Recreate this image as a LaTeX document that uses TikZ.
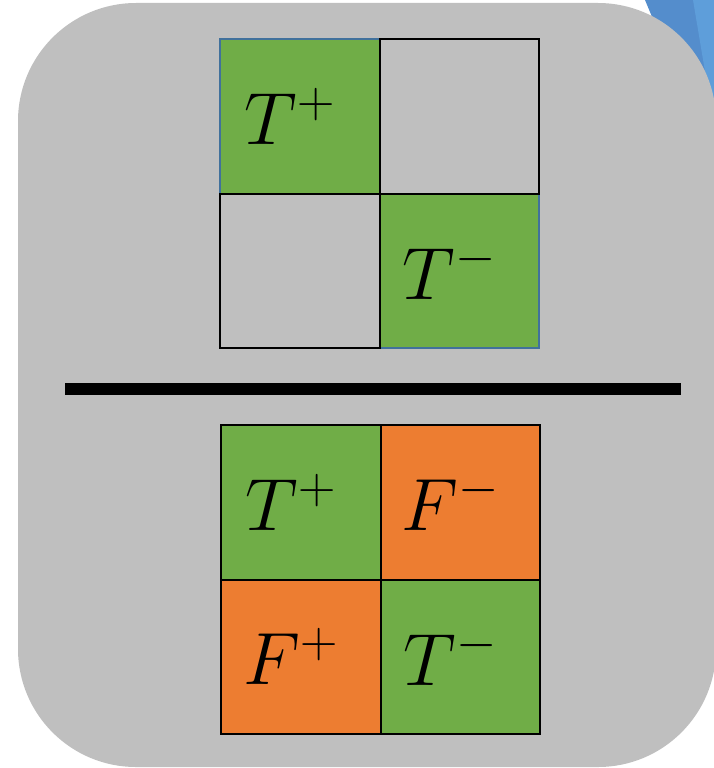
\documentclass[tikz,border=0pt]{standalone}
\usepackage{fix-cm}
\usetikzlibrary{positioning}

\definecolor{panelgray}{RGB}{191,191,191}
\definecolor{cellgreen}{RGB}{112,173,71}
\definecolor{cellorange}{RGB}{237,125,49}
\definecolor{edgeblue}{RGB}{65,113,156}
\definecolor{shapeblue}{RGB}{84,141,204}
\definecolor{shapelight}{RGB}{94,158,218}

\tikzset{
  cell/.style={draw=black, line width=2pt, minimum width=159.5pt, minimum height=154.5pt,
    inner sep=0pt, outer sep=0pt},
  hit/.style={cell, fill=cellgreen},
  miss/.style={cell, fill=cellorange},
  empty/.style={cell, fill=panelgray},
  tag/.style={font=\fontsize{74}{80}\selectfont, inner sep=0pt, xshift=-10pt}
}

\begin{document}
\begin{tikzpicture}[x=1pt, y=-1pt]
  \clip (0,0) rectangle (714,768);
  % shape peeking in at the top right
  \fill[shapeblue] (645,0) -- (714,0) -- (714,166) -- cycle;
  \fill[shapelight] (693,0) -- (714,0) -- (714,125) -- cycle;
  % panel
  \fill[panelgray, rounded corners=118pt] (18,3) rectangle (716,767);

  % top grid: only the diagonal
  \node[hit, draw=edgeblue] (tpp) at (299.75,116.25) {};
  \node[hit, draw=edgeblue, below right=0pt and 0pt of tpp] (tmm) {};
  \node[empty, right=0pt of tpp] (tpm) {};
  \node[empty, below=0pt of tpp] (tmp) {};
  \node[tag] at (tpp.center) {$T^+$};
  \node[tag] at (tmm.center) {$T^-$};

  % rule
  \draw[line width=12pt] (65,389) -- (681,389);

  % bottom grid: full table
  \node[hit] (bpp) at (300.75,502.25) {};
  \node[miss, right=0pt of bpp] (bpm) {};
  \node[miss, below=0pt of bpp] (bmp) {};
  \node[hit, right=0pt of bmp] (bmm) {};
  \node[tag] at (bpp.center) {$T^+$};
  \node[tag] at (bpm.center) {$F^-$};
  \node[tag] at (bmp.center) {$F^+$};
  \node[tag] at (bmm.center) {$T^-$};
\end{tikzpicture}
\end{document}
